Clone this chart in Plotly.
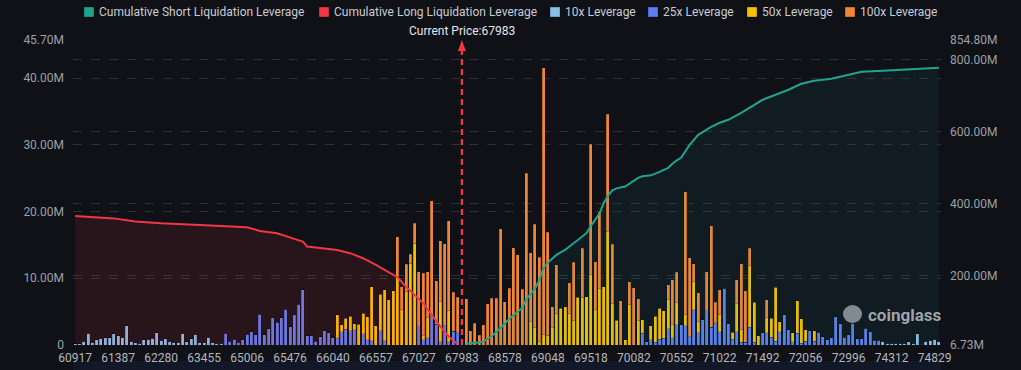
import plotly.graph_objects as go

# ---------------- DATA ----------------
categories = [
    "60917", "60964", "61011", "61058", "61105", "61152", "61199", "61246", "61293", "61340",
    "61387", "61481", "61575", "61669", "61763", "61857", "61951", "62045", "62139", "62186",
    "62280", "62374", "62515", "62656", "62797", "62938", "63079", "63220", "63314", "63408",
    "63455", "63596", "63784", "63972", "64160", "64348", "64536", "64724", "64865", "64959",
    "65006", "65053", "65100", "65147", "65194", "65241", "65288", "65335", "65382", "65429",
    "65476", "65523", "65570", "65617", "65664", "65758", "65805", "65852", "65946", "65993",
    "66040", "66087", "66134", "66181", "66228", "66275", "66322", "66369", "66416", "66510",
    "66557", "66604", "66651", "66698", "66745", "66792", "66839", "66886", "66933", "66980",
    "67027", "67121", "67215", "67309", "67403", "67497", "67591", "67685", "67779", "67873",
    "67983", "68030", "68077", "68124", "68171", "68218", "68312", "68406", "68484", "68531",
    "68578", "68625", "68672", "68719", "68766", "68813", "68860", "68907", "68954", "69001",
    "69048", "69095", "69142", "69189", "69236", "69283", "69330", "69377", "69424", "69471",
    "69518", "69565", "69612", "69659", "69706", "69753", "69800", "69894", "69988", "70035",
    "70082", "70129", "70176", "70223", "70270", "70317", "70364", "70411", "70458", "70505",
    "70552", "70599", "70646", "70693", "70740", "70787", "70834", "70881", "70928", "70975",
    "71022", "71069", "71116", "71163", "71210", "71257", "71304", "71351", "71398", "71445",
    "71492", "71539", "71586", "71633", "71680", "71727", "71774", "71868", "71962", "72009",
    "72056", "72150", "72244", "72338", "72432", "72526", "72620", "72714", "72808", "72902",
    "72996", "73137", "73278", "73419", "73560", "73701", "73842", "73983", "74124", "74218",
    "74312", "74359", "74406", "74453", "74500", "74547", "74594", "74641", "74688", "74782",
    "74829", "74876",
]

tick_labels = ["60917", "61387", "62280", "63455", "65006", "65476", "66040", "66557",
               "67027", "67983", "68578", "69048", "69518", "70082", "70552", "71022",
               "71492", "72056", "72996", "74312", "74829"]

current_price = "67983"

# liquidation leverage per price level (millions USD)
lev10 = [
    0.2, 0.2, 0.6, 1.75, 0.45, 0.75, 1.0, 1.05, 1.05, 1.7,
    1.35, 1.15, 2.85, 0.6, 0.35, 0.3, 0.75, 0.85, 1.0, 1.8,
    0.7, 0.9, 0.6, 0.4, 0.45, 1.75, 0.5, 0.95, 1.6, 0.45,
    0.45, 1.15, 0.45, 0.3, 0.3, 0, 0, 0, 0, 0,
    0, 0, 0, 0, 0, 0, 0, 0, 0, 0,
    0, 0, 0, 0, 0, 0, 0, 0, 0, 0,
    0, 0, 0, 0, 0, 0, 0, 0, 0, 0,
    0, 0, 0, 0, 0, 0, 0, 0, 0, 0,
    0, 0, 0, 0, 0, 0, 0, 0, 0, 0,
    0, 0, 0, 0, 0, 0, 0, 0, 0, 0,
    0, 0, 0, 0, 0, 0, 0, 0, 0, 0,
    0, 0, 0, 0, 0, 0, 0, 0, 0, 0,
    0, 0, 0, 0, 0, 0, 0, 0, 0, 0,
    0, 0, 0, 0, 0, 0, 0, 0, 0, 0,
    0, 0, 0, 0, 0, 0, 0, 0, 0, 0,
    0, 0, 0, 0, 0, 0, 0, 0, 0, 0,
    0, 0, 0, 0, 0, 0, 0, 0, 0, 0,
    0, 0, 0, 0, 0, 0, 0, 0, 0, 0,
    0, 0, 0, 0, 0, 0, 0, 0, 0.6, 0.25,
    0.25, 0.25, 0.25, 0.25, 0.5, 0.25, 1.7, 0.15, 0.6, 0.7,
    0.85, 0.55,
]

lev25 = [
    0, 0, 0, 0, 0, 0, 0, 0, 0, 0,
    0, 0, 0, 0, 0, 0, 0, 0, 0, 0,
    0, 0, 0, 0, 0, 0, 0, 0, 0, 0,
    0, 0, 0, 0, 0, 1.75, 0.6, 0.85, 0.4, 0.8,
    1.6, 2.0, 1.55, 4.6, 1.5, 2.45, 4.05, 3.4, 4.1, 5.35,
    2.7, 4.5, 6.1, 8.25, 1.4, 1.35, 0.55, 1.2, 2.15, 1.85,
    1.1, 1.1, 2.0, 2.35, 2.15, 2.25, 0, 1.65, 0.8, 0.65,
    0, 2.15, 0.65, 0, 0, 0, 0, 0, 0, 0,
    2.75, 0.75, 1.1, 4.25, 3.1, 0.5, 2.9, 0.5, 2.05, 1.85,
    0, 0, 0, 0, 0, 0, 0, 0, 0, 0,
    0, 0, 0, 0, 0, 0, 0, 0, 0, 0,
    0, 0, 0, 0, 0, 0, 0, 0, 0, 0,
    0, 0, 0, 0, 0, 0, 0, 0, 0, 0,
    0, 0, 1.75, 0.5, 0.8, 0.45, 0.85, 1.0, 2.4, 1.1,
    3.0, 3.0, 2.9, 1.2, 5.25, 1.85, 3.75, 5.15, 2.65, 3.35,
    2.0, 8.5, 3.15, 0.85, 1.95, 0.4, 0.4, 2.65, 0.45, 0,
    1.85, 1.85, 1.15, 0.6, 2.0, 4.5, 2.25, 0.5, 1.75, 0.3,
    0.6, 2.15, 0.6, 1.9, 1.25, 0.75, 1.1, 4.25, 3.15, 1.15,
    1.5, 3.25, 0.9, 0.9, 2.5, 1.95, 0.7, 0.7, 0, 0,
    0, 0, 0, 0, 0, 0, 0, 0, 0, 0,
    0, 0,
]

lev50 = [
    0, 0, 0, 0, 0, 0, 0, 0, 0, 0,
    0, 0, 0, 0, 0, 0, 0, 0, 0, 0,
    0, 0, 0, 0, 0, 0, 0, 0, 0, 0,
    0, 0, 0, 0, 0, 0, 0, 0, 0, 0,
    0, 0, 0, 0, 0, 0, 0, 0, 0, 0,
    0, 0, 0, 0, 0, 0, 0, 0, 0, 0,
    0, 3.4, 1.0, 1.65, 2.15, 0.9, 3.1, 3.1, 3.4, 8.1,
    2.9, 5.45, 7.6, 6.75, 8.15, 10.2, 5.35, 8.0, 12.25, 15.25,
    0, 0.6, 3.0, 0, 0, 6.0, 0, 4.65, 0, 0,
    0, 0, 0, 0, 0, 0, 0, 0, 0, 0,
    0, 0, 0, 0, 0, 0, 3.5, 2.6, 0.6, 1.6,
    1.45, 2.6, 4.75, 5.5, 5.7, 4.65, 3.65, 7.15, 7.15, 7.25,
    10.5, 5.25, 8.45, 8.7, 17.0, 6.2, 3.7, 0, 0.75, 6.05,
    0, 3.6, 2.05, 0, 2.1, 3.85, 4.65, 4.15, 4.45, 1.9,
    3.35, 0, 1.6, 0, 4.25, 1.65, 0, 0, 0, 0,
    2.5, 0, 0, 1.05, 4.2, 1.85, 0, 9.2, 5.95, 1.4,
    0, 2.25, 2.85, 8.05, 1.5, 0, 0, 1.35, 4.9, 3.6,
    1.65, 0, 1.55, 0, 0, 0, 0, 0, 0, 0,
    0, 0, 0, 0, 0, 0, 0, 0, 0, 0,
    0, 0, 0, 0, 0, 0, 0, 0, 0, 0,
    0, 0,
]

lev100 = [
    0, 0, 0, 0, 0, 0, 0, 0, 0, 0,
    0, 0, 0, 0, 0, 0, 0, 0, 0, 0,
    0, 0, 0, 0, 0, 0, 0, 0, 0, 0,
    0, 0, 0, 0, 0, 0, 0, 0, 0, 0,
    0, 0, 0, 0, 0, 0, 0, 0, 0, 0,
    0, 0, 0, 0, 0, 0, 0, 0, 0, 0,
    0, 0, 0, 0, 0, 0, 0, 0, 0, 0,
    0, 0, 0, 0, 0, 6.0, 3.4, 4.1, 1.35, 3.0,
    8.2, 9.4, 6.85, 17.35, 6.55, 9.1, 12.3, 13.45, 5.85, 5.3,
    0, 6.9, 2.1, 3.25, 1.45, 3.0, 6.2, 7.0, 7.0, 17.4,
    6.45, 8.5, 14.6, 13.5, 8.35, 25.7, 10.35, 15.5, 12.55, 39.95,
    15.45, 3.15, 7.25, 0, 0, 4.7, 8.75, 0, 7.35, 0,
    19.6, 7.2, 11.55, 0, 17.6, 8.9, 0, 6.6, 0, 3.45,
    8.55, 3.3, 0, 0, 0, 0, 0, 0, 2.15, 6.75,
    4.55, 0, 18.5, 11.9, 2.7, 4.35, 0, 5.85, 15.25, 3.05,
    3.75, 0, 0, 0, 3.6, 9.95, 7.75, 2.65, 0, 0,
    0, 2.65, 0, 0, 0, 0, 0, 0, 0, 0,
    0, 0, 0, 0, 0, 0, 0, 0, 0, 0,
    0, 0, 0, 0, 0, 0, 0, 0, 0, 0,
    0, 0, 0, 0, 0, 0, 0, 0, 0, 0,
    0, 0,
]

# cumulative liquidation (millions USD), read at these price levels
long_cum_x = ["60917", "61152", "61340", "61763", "62280", "63408", "64348", "65006", "65147",
              "65335", "65523", "65617", "65664", "65946", "66087", "66228", "66369", "66557",
              "66651", "66792", "66886", "66980", "67121", "67309", "67497", "67685", "67873"]
long_cum_y = [365.7, 361.6, 358.8, 350.4, 345.4, 340.7, 337.1, 334.3, 324.0,
              317.6, 301.7, 294.2, 280.3, 275.8, 271.1, 262.0, 248.0, 229.4,
              215.4, 195.1, 169.0, 147.3, 122.8, 90.2, 57.7, 29.8, 9.5]

short_cum_x = ["68030", "68124", "68218", "68406", "68531", "68625", "68719", "68766", "68813",
               "68907", "68954", "69001", "69048", "69142", "69236", "69330", "69424", "69471",
               "69518", "69565", "69612", "69659", "69706", "69753", "69800", "69988", "70082",
               "70129", "70176", "70270", "70364", "70458", "70505", "70552", "70599", "70646",
               "70693", "70787", "70928", "71022", "71116", "71257", "71398", "71492", "71633",
               "71774", "72009", "72244", "72620", "72996", "73419", "74124", "74406", "74641",
               "74876"]
short_cum_y = [9.5, 12.3, 15.9, 31.8, 54.0, 79.1, 100.0, 109.7, 134.7,
               162.6, 187.6, 221.0, 235.8, 257.2, 271.1, 289.2, 307.3, 317.6,
               338.0, 354.6, 371.3, 401.9, 421.4, 436.7, 442.3, 447.3, 463.1,
               471.5, 475.7, 478.5, 488.2, 499.3, 510.5, 520.2, 527.2, 546.6,
               563.3, 591.2, 613.4, 624.6, 632.9, 652.4, 674.6, 688.6, 702.5,
               716.4, 733.1, 741.5, 747.0, 758.2, 766.5, 769.3, 772.1, 774.9,
               777.6]

left_ticks = [0, 10, 20, 30, 40, 45.7]
left_tick_text = ["0", "10.00M", "20.00M", "30.00M", "40.00M", "45.70M"]
right_ticks = [6.73, 200, 400, 600, 800, 854.8]
right_tick_text = ["6.73M", "200.00M", "400.00M", "600.00M", "800.00M", "854.80M"]

legend_names = ["Cumulative Short Liquidation Leverage", "Cumulative Long Liquidation Leverage",
                "10x Leverage", "25x Leverage", "50x Leverage", "100x Leverage"]

# ---------------- STYLE ----------------
W, H = 1021, 370
ML, MR, MT, MB = 73, 80, 40, 25
BG = "#0f1117"
C_SHORT = "#22a38f"
C_LONG = "#f23645"
C10 = "#86c1ea"
C25 = "#5d7ff0"
C50 = "#f7bf00"
C100 = "#ee8636"
FONT = "Roboto"
EDGE = dict(width=0.6, color="rgba(0,0,0,0.35)")
legend_colors = [C_SHORT, C_LONG, C10, C25, C50, C100]
legend_swatch_left = [84, 319, 550, 648, 747, 845]   # px, layout placement of legend entries


def px_x(p):
    return (p - ML) / (W - ML - MR)


def px_y(p):
    return (H - MB - p) / (H - MT - MB)


cp_index = categories.index(current_price)

fig = go.Figure()

for name, vals, col in [("10x Leverage", lev10, C10), ("25x Leverage", lev25, C25),
                        ("50x Leverage", lev50, C50), ("100x Leverage", lev100, C100)]:
    fig.add_trace(go.Bar(x=categories, y=vals, name=name, marker=dict(color=col, line=EDGE),
                         hoverinfo="skip"))

fig.add_trace(go.Scatter(x=long_cum_x, y=long_cum_y, yaxis="y2", mode="lines",
                         name="Cumulative Long Liquidation Leverage",
                         line=dict(color=C_LONG, width=2), fill="tozeroy",
                         fillcolor="rgba(242,54,69,0.11)"))
fig.add_trace(go.Scatter(x=short_cum_x, y=short_cum_y, yaxis="y2", mode="lines",
                         name="Cumulative Short Liquidation Leverage",
                         line=dict(color=C_SHORT, width=2), fill="tozeroy",
                         fillcolor="rgba(38,166,154,0.08)"))

shapes = [
    dict(type="rect", xref="paper", yref="paper", x0=0, x1=1, y0=px_y(370), y1=px_y(361),
         fillcolor="#121827", line=dict(width=0), layer="below"),
    dict(type="line", xref="x", yref="paper", x0=cp_index, x1=cp_index,
         y0=0, y1=px_y(46), line=dict(color=C_LONG, width=2.2, dash="6px,4px"), layer="above"),
    # current price arrowhead
    dict(type="path", xref="x", xsizemode="pixel", xanchor=cp_index,
         yref="paper", ysizemode="pixel", yanchor=px_y(40),
         path="M -4 -11 L 4 -11 L 0 0 Z", fillcolor=C_LONG, line=dict(width=0),
         layer="above"),
    # watermark logo blob
    dict(type="circle", xref="paper", yref="paper", x0=px_x(843), x1=px_x(862),
         y0=px_y(323), y1=px_y(305), fillcolor="rgba(170,175,180,0.75)", line=dict(width=0),
         layer="above"),
]
annotations = [
    dict(x=cp_index, xref="x", y=px_y(31), yref="paper", yanchor="middle",
         text="Current Price:" + current_price, showarrow=False,
         font=dict(size=12, color="#e4e6ea")),
    dict(x=px_x(866), xref="paper", y=px_y(315), yref="paper", xanchor="left",
         yanchor="middle", text="<b>coinglass</b>", showarrow=False,
         font=dict(size=17, color="rgba(185,190,195,0.85)")),
]

for name, col, left in zip(legend_names, legend_colors, legend_swatch_left):
    shapes.append(dict(type="rect", xref="paper", yref="paper", x0=px_x(left),
                       x1=px_x(left + 10), y0=px_y(17), y1=px_y(7), fillcolor=col,
                       line=dict(width=1, color="rgba(0,0,0,0.3)")))
    annotations.append(dict(x=px_x(left + 13), xref="paper", y=px_y(12), yref="paper",
                            xanchor="left", yanchor="middle", text=name, showarrow=False,
                            font=dict(size=12, color="#c8ccd2")))

grid = "#2b2f37"
fig.update_layout(
    width=W, height=H,
    paper_bgcolor=BG, plot_bgcolor=BG,
    margin=dict(l=ML, r=MR, t=MT, b=MB, autoexpand=False),
    font=dict(family=FONT, size=12, color="#a3a8ae"),
    barmode="stack", bargap=0.3,
    showlegend=False,
    xaxis=dict(type="category", categoryorder="array", categoryarray=categories,
               tickmode="array", tickvals=tick_labels, ticktext=tick_labels,
               showgrid=False, zeroline=False, showline=False, ticks="", automargin=False,
               ticklabelstandoff=4,
               tickfont=dict(size=12, color="#b3b7bd"), range=[-0.5, len(categories) - 0.5]),
    yaxis=dict(range=[0, 45.7], tickmode="array", tickvals=left_ticks, ticktext=left_tick_text,
               showgrid=True, gridcolor=grid, griddash="dash", gridwidth=1, automargin=False,
               zeroline=False, showline=False, ticks="", ticklabelstandoff=8,
               tickfont=dict(size=12, color="#9ba0a7")),
    yaxis2=dict(range=[6.73, 854.8], overlaying="y", side="right", tickmode="array",
                tickvals=right_ticks, ticktext=right_tick_text, automargin=False,
                showgrid=True, gridcolor=grid, griddash="dash", gridwidth=1,
                zeroline=False, showline=False, ticks="", ticklabelstandoff=8,
                tickfont=dict(size=12, color="#9ba0a7")),
    shapes=shapes,
    annotations=annotations,
)

fig.write_html("out.html", config={"displayModeBar": False},
               post_script="document.body.style.margin='0';document.body.style.background='%s';" % BG)
